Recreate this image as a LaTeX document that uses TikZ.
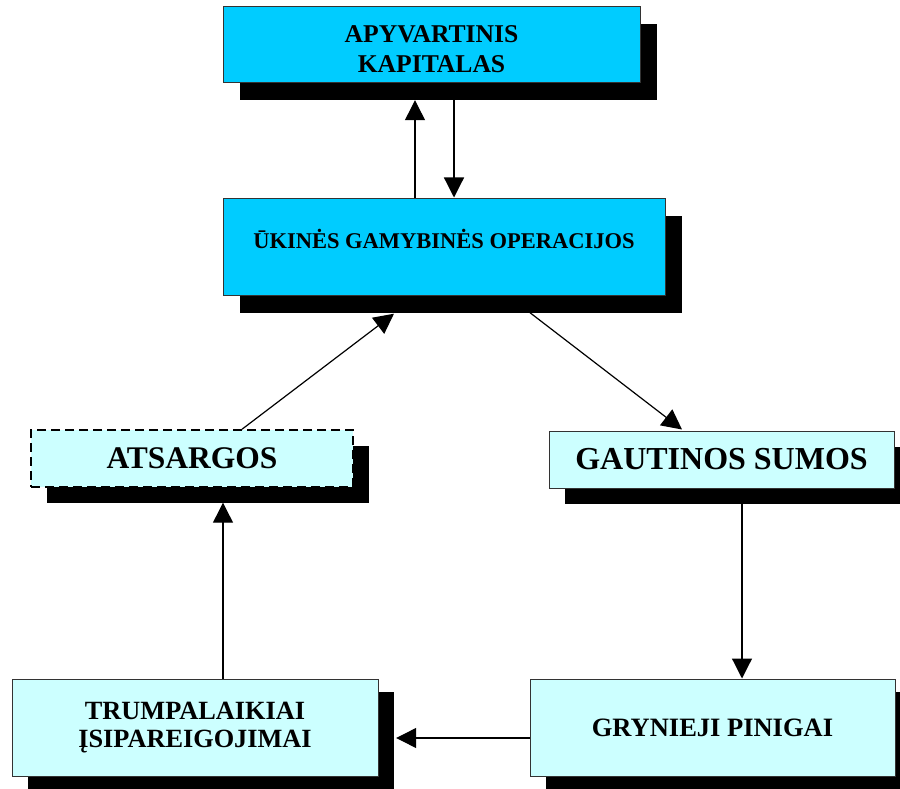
\documentclass[tikz,border=0pt]{standalone}
\usepackage{fontspec}
\setmainfont{Liberation Serif}
\usetikzlibrary{arrows.meta}
\definecolor{deepcyan}{HTML}{00CCFF}
\definecolor{palecyan}{HTML}{CCFFFF}
\tikzset{
  boxbase/.style={rectangle, draw=black!80, line width=1pt, inner sep=0pt, align=center, font=\bfseries},
  darkbox/.style={boxbase, fill=deepcyan},
  lightbox/.style={boxbase, fill=palecyan},
  shadowbox/.style={rectangle, fill=black, draw=none, inner sep=0pt},
  txt/.style={inner sep=0pt, align=center, font=\bfseries},
  arr/.style={-{Triangle[length=20pt,width=20pt]}, line width=1.2pt, black}
}
\begin{document}
\begin{tikzpicture}[x=1pt,y=-1pt]
\useasboundingbox (0,0) rectangle (900,789);
% shadows
\node[shadowbox, minimum width=417pt, minimum height=76pt] (topS) at (448.5,62) {};
\node[shadowbox, minimum width=442pt, minimum height=97pt] (midS) at (461,264) {};
\node[shadowbox, minimum width=322pt, minimum height=57pt] (atsS) at (208,474) {};
\node[shadowbox, minimum width=345pt, minimum height=57pt] (gauS) at (737.5,475) {};
\node[shadowbox, minimum width=366pt, minimum height=97pt] (truS) at (211,740) {};
\node[shadowbox, minimum width=365pt, minimum height=97pt] (gryS) at (728.5,740) {};
% boxes
\node[darkbox, minimum width=417pt, minimum height=76pt] (top) at (431.5,45) {};
\node[txt, font=\bfseries\fontsize{25.6}{30}\selectfont] (topT) at (431.5,49) {APYVARTINIS\\KAPITALAS};
\node[darkbox, minimum width=442pt, minimum height=97pt] (mid) at (444,246.5) {};
\node[txt, font=\bfseries\fontsize{22.5}{27}\selectfont] (midT) at (444,238.5) {ŪKINĖS GAMYBINĖS OPERACIJOS};
\node[lightbox, draw=black, line width=1.5pt, dash pattern=on 9pt off 5pt, minimum width=322pt, minimum height=57pt, font=\bfseries\fontsize{31.5}{36}\selectfont] (ats) at (192,458.5) {ATSARGOS};
\node[lightbox, minimum width=345pt, minimum height=57pt, font=\bfseries\fontsize{32}{36}\selectfont] (gau) at (721.5,459.5) {GAUTINOS SUMOS};
\node[lightbox, minimum width=366pt, minimum height=97pt, font=\bfseries\fontsize{26.3}{28}\selectfont] (tru) at (195,727.5) {TRUMPALAIKIAI\\ĮSIPAREIGOJIMAI};
\node[lightbox, minimum width=365pt, minimum height=97pt, font=\bfseries\fontsize{26.5}{30}\selectfont] (gry) at (712.5,727.5) {GRYNIEJI PINIGAI};
% connectors
\draw[arr] ([xshift=-29pt]mid.north) -- ([xshift=-33.5pt]topS.south);
\draw[arr] ([xshift=5.5pt]topS.south) -- ([xshift=10pt]mid.north);
\draw[arr] ([xshift=50pt]ats.north) -- ([xshift=-67pt,yshift=-1pt]midS.south);
\draw[arr] ([xshift=69pt]midS.south) -- ([xshift=-39.5pt,yshift=1pt]gau.north);
\draw[arr] ([xshift=4.5pt]gauS.south) -- ([xshift=29.5pt]gry.north);
\draw[arr] ([yshift=-10.5pt]gry.west) -- ([yshift=2pt,xshift=2pt]truS.east);
\draw[arr] ([xshift=28pt]tru.north) -- ([xshift=15pt]atsS.south);
\end{tikzpicture}
\end{document}
